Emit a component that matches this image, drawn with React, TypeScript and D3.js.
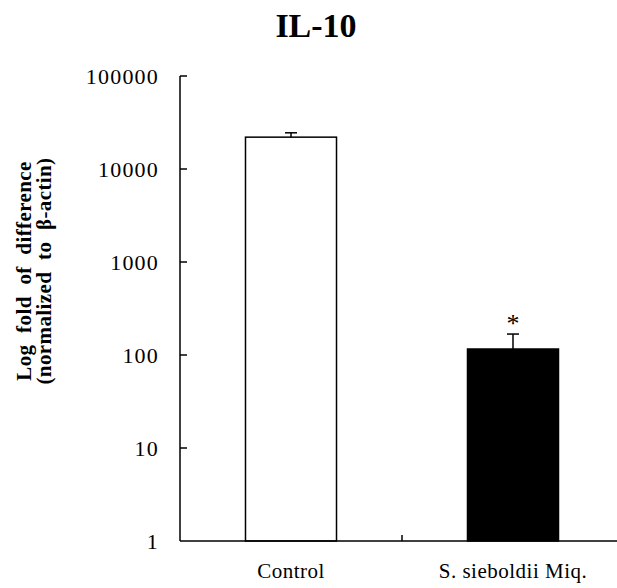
import * as d3 from "d3";

const categories = ["Control", "S. sieboldii Miq."];
const means = [22000, 116];
const errors = [2500, 52];
const significant = [false, true];
const yTicks = [1, 10, 100, 1000, 10000, 100000];

const W = 617;
const H = 588;
const FONT = "'Liberation Serif', 'Times New Roman', serif";

// plot box
const X0 = 180;
const X1 = 624;
const Y0 = 541;
const Y1 = 76;

export default function App() {
  const x = d3.scaleBand<string>().domain(categories).range([X0, X1]).padding(0);
  const y = d3.scaleLog().domain([1, 100000]).range([Y0, Y1]);
  const barW = x.bandwidth() * 0.41;

  return (
    <svg
      width={W}
      height={H}
      style={{ position: "absolute", left: 0, top: 0, background: "#fff" }}
      fontFamily={FONT}
    >
      {/* title */}
      <text x={316} y={37} textAnchor="middle" fontSize={34} fontWeight="bold">
        IL-10
      </text>

      {/* y label */}
      <g
        transform="translate(31,271) rotate(-90)"
        fontWeight="bold"
        fontSize={21}
        letterSpacing={0.4}
        wordSpacing={6}
        textAnchor="middle"
      >
        <text x={0} y={0}>Log fold of difference</text>
        <text x={0} y={20}>(normalized to β-actin)</text>
      </g>

      {/* bars */}
      {categories.map((c, i) => {
        const cx = x(c)! + x.bandwidth() / 2;
        const top = y(means[i]);
        const errTop = y(means[i] + errors[i]);
        return (
          <g key={c}>
            <line x1={cx} x2={cx} y1={top} y2={errTop} stroke="#000" strokeWidth={1.5} />
            <line x1={cx - 6} x2={cx + 6} y1={errTop} y2={errTop} stroke="#000" strokeWidth={1.5} />
            <rect
              x={cx - barW / 2}
              y={top}
              width={barW}
              height={Y0 - top}
              fill={i === 0 ? "#fff" : "#000"}
              stroke="#000"
              strokeWidth={1.5}
            />
            {significant[i] && (
              <text x={cx} y={errTop - 2} textAnchor="middle" fontSize={26}>
                *
              </text>
            )}
            <text x={cx} y={578} textAnchor="middle" fontSize={21} letterSpacing={0.5}>
              {c}
            </text>
          </g>
        );
      })}

      {/* y axis */}
      <line x1={X0} x2={X0} y1={Y1} y2={Y0} stroke="#000" strokeWidth={1.5} />
      {yTicks.map((t) => (
        <g key={t}>
          {t !== 1 && (
            <line x1={X0} x2={X0 + 7} y1={y(t)} y2={y(t)} stroke="#000" strokeWidth={1.5} />
          )}
          <text x={159} y={y(t)} dy="0.35em" textAnchor="end" fontSize={22} letterSpacing={1.2}>
            {t}
          </text>
        </g>
      ))}

      {/* x axis */}
      <line x1={X0} x2={X1} y1={Y0} y2={Y0} stroke="#000" strokeWidth={1.5} />
      {categories.slice(1).map((c) => (
        <line key={c} x1={x(c)!} x2={x(c)!} y1={Y0} y2={Y0 - 6} stroke="#000" strokeWidth={1.5} />
      ))}
    </svg>
  );
}
